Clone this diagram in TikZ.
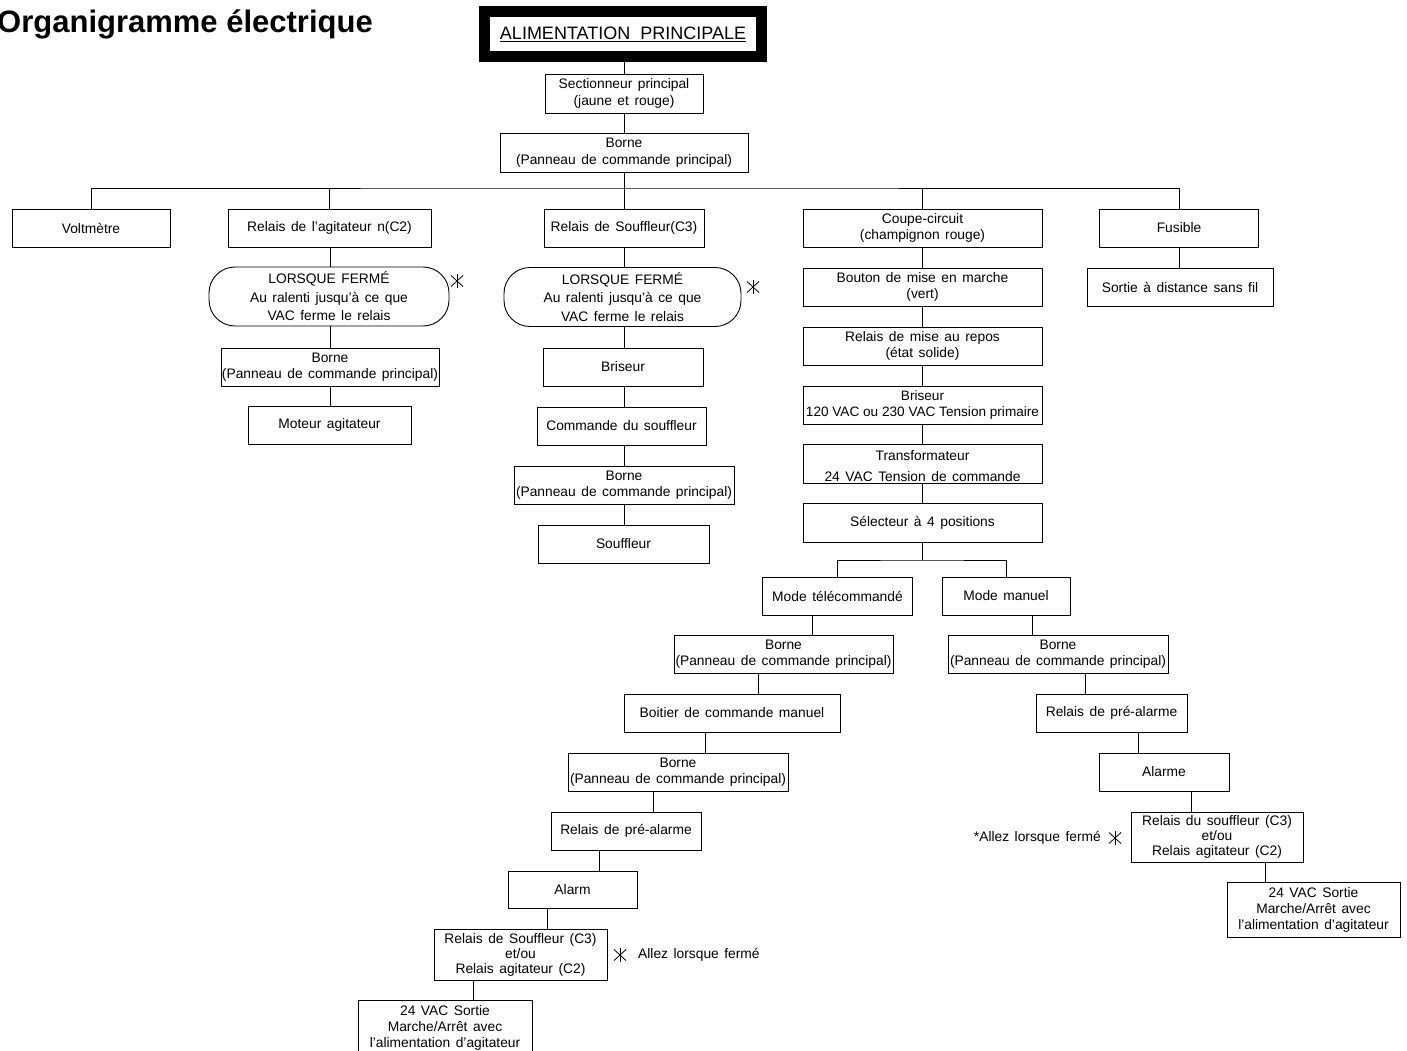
\documentclass[tikz,border=0pt]{standalone}
\usepackage{fontspec}
\setmainfont{Liberation Sans}
\newcommand{\cadfontb}[1]{\fontsize{13.8}{#1}\selectfont\spaceskip=0.4em plus 0.1em minus 0.1em\relax}
\newcommand{\cadfont}{\cadfontb{16.5}}
\tikzset{
    bloc/.style={draw, line width=0.9pt, inner sep=0.5pt, align=center, font=\cadfont, minimum height=38},
    capsule/.style={bloc, rounded corners=26, minimum height=59, font=\cadfontb{18.5}},
    lien/.style={line width=0.9pt},
    etoile/.style={inner sep=0, minimum size=14, path picture={
        \draw[line width=0.8pt] ([yshift=7]path picture bounding box.center) -- ([yshift=-7]path picture bounding box.center);
        \draw[line width=0.8pt] ([shift={(-6,-5.5)}]path picture bounding box.center) -- ([shift={(6,5.5)}]path picture bounding box.center);
        \draw[line width=0.8pt] ([shift={(-6,5.5)}]path picture bounding box.center) -- ([shift={(6,-5.5)}]path picture bounding box.center);}},
    note/.style={inner sep=0, font=\cadfont}
}
\begin{document}
\begin{tikzpicture}[x=1pt, y=-1pt]
    \useasboundingbox (0,0) rectangle (1407,1051);
    \node[anchor=base east, inner sep=0, font=\fontsize{31}{36}\selectfont\bfseries] (titre) at (373,33) {Organigramme électrique};
    \node[draw, line width=11pt, inner sep=0, minimum width=277, minimum height=45, font=\fontsize{18}{20}\selectfont] (alim) at (623,34) {\underline{ALIMENTATION\ \ PRINCIPALE}};

    \node[bloc, minimum width=158, minimum height=39] (sect) at (624,93.5) {Sectionneur principal\\(jaune et rouge)};
    \node[bloc, minimum width=248, minimum height=39] (borne) at (624,152.5) {Borne\\(Panneau de commande principal)};

    \node[bloc, minimum width=158] (volt) at (91,228) {Voltmètre};
    \node[bloc, minimum width=203] (relA) at (329.5,228) {Relais de l'agitateur n(C2)};
    \node[bloc, minimum width=160] (relS) at (624,228) {Relais de Souffleur(C3)};
    \node[bloc, minimum width=239] (coupe) at (922.5,228) {Coupe-circuit\\(champignon rouge)};
    \node[bloc, minimum width=159] (fus) at (1179,228) {Fusible};
    \node[bloc, minimum width=186] (sortie) at (1180,287) {Sortie à distance sans fil};

    \node[capsule, minimum width=240] (capA) at (329,296.5) {LORSQUE FERMÉ\\Au ralenti jusqu'à ce que\\VAC ferme le relais};
    \node[etoile] (etA) at (457,281) {};
    \node[bloc, minimum width=218] (borneA) at (330,367) {Borne\\(Panneau de commande principal)};
    \node[bloc, minimum width=163] (motA) at (329.5,425) {Moteur agitateur};

    \node[capsule, minimum width=237] (capS) at (622.5,297) {LORSQUE FERMÉ\\Au ralenti jusqu'à ce que\\VAC ferme le relais};
    \node[etoile] (etS) at (753,287) {};
    \node[bloc, minimum width=160] (brisS) at (623,367) {Briseur};
    \node[bloc, minimum width=169] (cmdS) at (621.5,426) {Commande du souffleur};
    \node[bloc, minimum width=220] (borneS) at (624,485) {Borne\\(Panneau de commande principal)};
    \node[bloc, minimum width=171] (souf) at (623.5,544) {Souffleur};

    \node[bloc, minimum width=239] (bouton) at (922.5,287) {Bouton de mise en marche\\(vert)};
    \node[bloc, minimum width=239] (repos) at (922.5,346) {Relais de mise au repos\\(état solide)};
    \node[bloc, minimum width=239, font=\fontsize{13.6}{16}\selectfont] (bris) at (922.5,405) {Briseur\\120 VAC ou 230 VAC Tension primaire};
    \node[bloc, minimum width=239, minimum height=39, font=\cadfontb{21}] (transfo) at (922.5,463.5) {\rule{0pt}{16pt}Transformateur\\24 VAC Tension de commande};
    \node[bloc, minimum width=239, minimum height=39] (select) at (922.5,522.5) {Sélecteur à 4 positions};

    \node[bloc, minimum width=150] (tele) at (837.5,596) {Mode télécommandé};
    \node[bloc, minimum width=219] (borneT) at (783.5,654) {Borne\\(Panneau de commande principal)};
    \node[bloc, minimum width=216] (boit) at (732,713) {Boitier de commande manuel};
    \node[bloc, minimum width=220] (borneT2) at (678,772) {Borne\\(Panneau de commande principal)};
    \node[bloc, minimum width=150] (preT) at (626,831) {Relais de pré-alarme};
    \node[bloc, minimum width=129, minimum height=37] (alarmT) at (572.5,889.5) {Alarm};
    \node[bloc, minimum width=173, minimum height=51, font=\cadfontb{15}] (relT) at (520.5,954.5) {Relais de Souffleur (C3)\\et/ou\\Relais agitateur (C2)};
    \node[etoile] (etT) at (620,955) {};
    \node[note, anchor=west] (noteT) at (638,955) {Allez lorsque fermé};
    \node[bloc, minimum width=174, minimum height=55, font=\cadfontb{16}] (outT) at (445,1027.5) {24 VAC Sortie\\Marche/Arrêt avec\\l'alimentation d'agitateur};

    \node[bloc, minimum width=128] (manu) at (1006,596) {Mode manuel};
    \node[bloc, minimum width=220] (borneM) at (1058,654) {Borne\\(Panneau de commande principal)};
    \node[bloc, minimum width=151] (preM) at (1111.5,713) {Relais de pré-alarme};
    \node[bloc, minimum width=130] (alarmM) at (1164,772) {Alarme};
    \node[bloc, minimum width=172, minimum height=50, font=\cadfontb{15}] (relM) at (1217,837) {Relais du souffleur (C3)\\et/ou\\Relais agitateur (C2)};
    \node[etoile] (etM) at (1115,838) {};
    \node[note, anchor=east] (noteM) at (1101,838) {*Allez lorsque fermé};
    \node[bloc, minimum width=173, minimum height=55, font=\cadfontb{16}] (outM) at (1313.5,909.5) {24 VAC Sortie\\Marche/Arrêt avec\\l'alimentation d'agitateur};

    \draw[lien] (alim.south -| sect.north) -- (sect.north);
    \draw[lien] (sect) -- (borne);
    \coordinate (bus) at (624,188);
    \draw[lien] (borne.south) -- (relS.north);
    \draw[lien] (volt.north) |- (bus) -| (fus.north);
    \draw[lien] (relA.north) -- (relA.north |- bus);
    \draw[lien] (coupe.north) -- (coupe.north |- bus);
    \draw[lien] (fus.south) -- (fus.south |- sortie.north);

    \draw[lien] (relA.south -| borneA.north) -- (capA.north -| borneA.north);
    \draw[lien] (capA.south -| borneA.north) -- (borneA.north);
    \draw[lien] (borneA.south) -- (borneA.south |- motA.north);

    \draw[lien] (relS.south -| borneS.north) -- (capS.north -| borneS.north);
    \draw[lien] (capS.south -| borneS.north) -- (brisS.north -| borneS.north);
    \draw[lien] (brisS.south -| borneS.north) -- (cmdS.north -| borneS.north);
    \draw[lien] (cmdS.south -| borneS.north) -- (borneS.north);
    \draw[lien] (borneS.south) -- (souf.north -| borneS.south);

    \draw[lien] (coupe) -- (bouton);
    \draw[lien] (bouton) -- (repos);
    \draw[lien] (repos) -- (bris);
    \draw[lien] (bris) -- (transfo);
    \draw[lien] (transfo) -- (select);
    \coordinate (fourche) at (922.5,560);
    \draw[lien] (select.south) -- (fourche);
    \draw[lien] (tele.north) |- (fourche) -| (manu.north);

    \draw[lien] (tele.south -| 812,0) -- (borneT.north -| 812,0);
    \draw[lien] (borneT.south -| 758,0) -- (boit.north -| 758,0);
    \draw[lien] (boit.south -| 705,0) -- (borneT2.north -| 705,0);
    \draw[lien] (borneT2.south -| 653,0) -- (preT.north -| 653,0);
    \draw[lien] (preT.south -| 599,0) -- (alarmT.north -| 599,0);
    \draw[lien] (alarmT.south -| 547,0) -- (relT.north -| 547,0);
    \draw[lien] (relT.south -| 473,0) -- (outT.north -| 473,0);

    \draw[lien] (manu.south -| 1032,0) -- (borneM.north -| 1032,0);
    \draw[lien] (borneM.south -| 1085,0) -- (preM.north -| 1085,0);
    \draw[lien] (preM.south -| 1138,0) -- (alarmM.north -| 1138,0);
    \draw[lien] (alarmM.south -| 1191,0) -- (relM.north -| 1191,0);
    \draw[lien] (relM.south -| 1265,0) -- (outM.north -| 1265,0);
\end{tikzpicture}
\end{document}
